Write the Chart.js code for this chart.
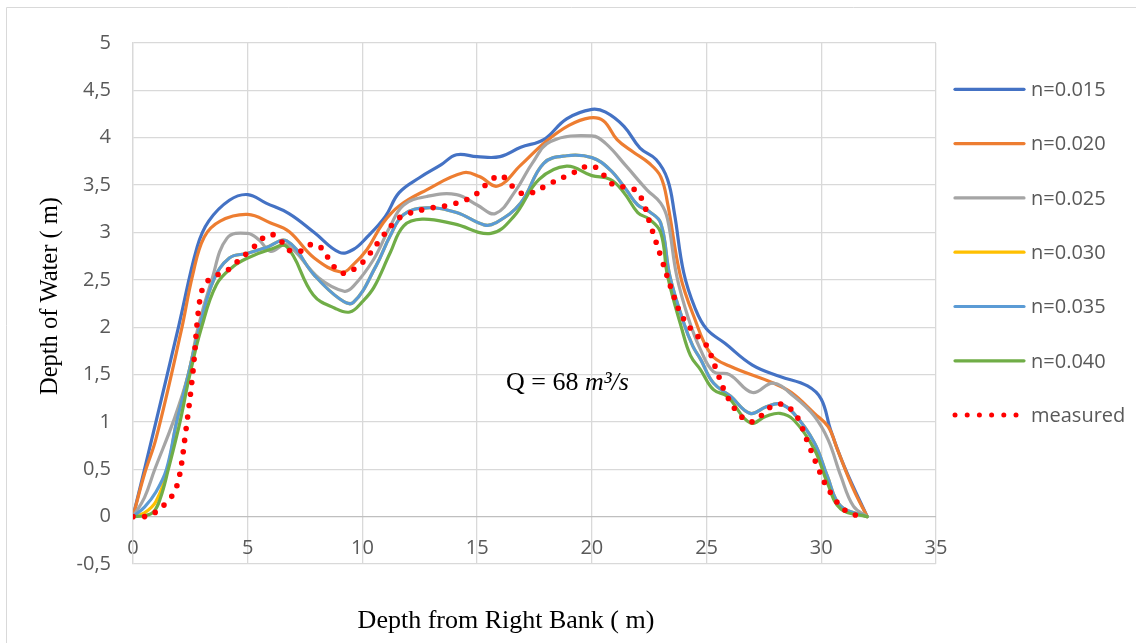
<!DOCTYPE html>
<html>
<head>
<meta charset="utf-8">
<title>Depth of Water</title>
<script src="https://cdn.jsdelivr.net/npm/chart.js@4.4.1/dist/chart.umd.min.js"></script>
<style>
  html, body { margin: 0; padding: 0; background: #ffffff; }
  #wrap { width: 1136px; height: 643px; position: relative; }
  canvas { display: block; }
</style>
</head>
<body>
<div id="wrap"><canvas id="chart" width="1136" height="643"></canvas></div>
<script>
// Axis ticks
const xTicks = [0, 5, 10, 15, 20, 25, 30, 35];
const yTicks = [-0.5, 0, 0.5, 1, 1.5, 2, 2.5, 3, 3.5, 4, 4.5, 5];
const yTickLabels = ['-0,5', '0', '0,5', '1', '1,5', '2', '2,5', '3', '3,5', '4', '4,5', '5'];

// Series names
const seriesNames = ['n=0.015', 'n=0.020', 'n=0.025', 'n=0.030', 'n=0.035', 'n=0.040', 'measured'];

// n = 0.015
const xN015 = [0, 1, 2, 2.8, 3.3, 4.2, 5, 5.8, 6.8, 7.9, 9, 9.6, 10.2, 11, 11.6, 12.5, 13.4, 14.1, 15, 16, 16.9, 17.9, 18.9, 20, 20.6, 21.4, 22.1, 22.8, 23.3, 23.6, 24, 24.5, 25, 25.8, 27, 28.2, 29.4, 30, 30.4, 31, 32];
const yN015 = [0, 1.0, 2.02, 2.85, 3.12, 3.34, 3.4, 3.31, 3.2, 3.0, 2.79, 2.82, 2.95, 3.17, 3.42, 3.58, 3.71, 3.82, 3.8, 3.8, 3.9, 3.98, 4.2, 4.3, 4.27, 4.12, 3.89, 3.77, 3.56, 3.2, 2.58, 2.2, 1.98, 1.83, 1.6, 1.48, 1.38, 1.24, 0.92, 0.53, 0];

// n = 0.020
const xN020 = [0, 0.5, 1, 2.1, 2.6, 3.1, 3.8, 5, 6, 6.8, 7.9, 9.1, 9.6, 10.2, 10.9, 11.6, 12.8, 14.4, 15.1, 15.9, 16.9, 18, 19, 19.9, 20.5, 21.1, 21.8, 22.5, 23, 23.3, 23.85, 24.45, 25.2, 26, 27.9, 28.7, 29.7, 30.3, 30.7, 31.4, 32];
const yN020 = [0, 0.45, 0.82, 1.96, 2.55, 2.95, 3.12, 3.19, 3.1, 3.01, 2.73, 2.58, 2.66, 2.82, 3.1, 3.28, 3.45, 3.63, 3.59, 3.49, 3.71, 3.96, 4.13, 4.21, 4.18, 3.98, 3.85, 3.73, 3.59, 3.31, 2.55, 2.11, 1.71, 1.59, 1.41, 1.31, 1.09, 0.95, 0.71, 0.29, 0];

// n = 0.025
const xN025 = [0, 0.5, 0.95, 1.75, 2.4, 2.84, 3.42, 4.1, 5, 5.5, 6, 6.7, 8.1, 9.2, 9.6, 10.5, 11.2, 11.8, 12.8, 14.1, 15, 15.8, 16.7, 17.4, 18.2, 20, 20.6, 21.5, 22.4, 23, 23.3, 23.7, 24.2, 24.74, 25.3, 26, 27, 27.9, 28.8, 29.7, 30.3, 30.85, 31.4, 32];
const yN025 = [0, 0.2, 0.5, 1.0, 1.49, 2.0, 2.49, 2.94, 2.99, 2.92, 2.8, 2.87, 2.52, 2.38, 2.43, 2.72, 3.06, 3.29, 3.38, 3.4, 3.29, 3.2, 3.45, 3.73, 3.96, 4.02, 3.94, 3.7, 3.45, 3.31, 3.14, 2.54, 2.1, 1.76, 1.53, 1.5, 1.31, 1.41, 1.27, 1.06, 0.81, 0.43, 0.11, 0];

// n = 0.030
const xN030 = [0, 0.5, 1, 1.5, 1.9, 2.4, 2.9, 3.5, 4.2, 5, 5.8, 6.7, 7.9, 9, 9.6, 10.6, 11.2, 11.8, 12.8, 14.1, 15.3, 15.8, 16.9, 17.9, 18.9, 20, 20.8, 21.5, 22, 22.5, 23, 23.4, 24, 24.4, 24.74, 25.3, 26.05, 26.9, 27.6, 28.2, 28.8, 29.7, 30.26, 30.85, 32];
const yN030 = [0, 0.04, 0.16, 0.5, 1.0, 1.49, 2.0, 2.49, 2.73, 2.78, 2.84, 2.91, 2.55, 2.3, 2.26, 2.65, 2.96, 3.19, 3.26, 3.21, 3.08, 3.1, 3.31, 3.73, 3.81, 3.79, 3.66, 3.45, 3.29, 3.22, 3.1, 2.54, 2.05, 1.8, 1.66, 1.41, 1.27, 1.09, 1.16, 1.19, 1.09, 0.78, 0.43, 0.11, 0];

// n = 0.035
const xN035 = [0, 0.5, 1, 1.46, 1.9, 2.4, 2.9, 3.5, 4.2, 5, 5.8, 6.7, 7.9, 9, 9.6, 10.6, 11.2, 11.8, 12.8, 14.1, 15.3, 15.8, 16.9, 17.9, 18.9, 20, 20.8, 21.5, 22, 22.5, 23, 23.4, 24, 24.4, 24.74, 25.3, 26.05, 26.9, 27.6, 28.2, 28.8, 29.7, 30.26, 30.85, 32];
const yN035 = [0, 0.1, 0.26, 0.5, 1.0, 1.49, 2.0, 2.49, 2.73, 2.78, 2.84, 2.91, 2.55, 2.3, 2.26, 2.65, 2.96, 3.19, 3.26, 3.21, 3.08, 3.1, 3.31, 3.73, 3.81, 3.79, 3.66, 3.45, 3.29, 3.22, 3.1, 2.54, 2.05, 1.8, 1.66, 1.41, 1.27, 1.09, 1.16, 1.19, 1.09, 0.78, 0.43, 0.11, 0];

// n = 0.040
const xN040 = [0, 0.5, 0.9, 1.2, 1.53, 2.04, 2.47, 2.98, 3.64, 4.37, 5, 5.97, 6.7, 7.86, 8.8, 9.45, 10, 10.5, 11.2, 11.8, 12.6, 14, 15.6, 16.6, 17.7, 18.9, 20, 20.8, 21.4, 22, 22.5, 23, 23.3, 23.9, 24.3, 24.74, 25.3, 25.9, 26.9, 27.6, 28.2, 28.8, 29.7, 30.26, 30.85, 32];
const yN040 = [0, 0.01, 0.05, 0.2, 0.49, 0.99, 1.49, 1.99, 2.45, 2.64, 2.73, 2.82, 2.85, 2.34, 2.2, 2.16, 2.27, 2.42, 2.78, 3.07, 3.14, 3.09, 2.99, 3.17, 3.56, 3.7, 3.6, 3.56, 3.42, 3.21, 3.14, 3.0, 2.54, 2.0, 1.7, 1.55, 1.34, 1.27, 0.99, 1.06, 1.09, 1.02, 0.71, 0.36, 0.08, 0];

// measured profile
const xMeasured = [0, 0.5, 1.0, 1.5, 1.75, 2.0, 2.3, 2.6, 2.92, 3.16, 3.57, 4.05, 4.44, 5.24, 5.6, 6.04, 6.45, 6.81, 7.28, 7.71, 8.15, 8.76, 9.17, 9.68, 10.07, 10.7, 11.4, 11.8, 12.8, 13.8, 14.8, 15.6, 16.05, 16.8, 17.27, 18.2, 19.2, 19.65, 20.15, 20.9, 21.4, 21.87, 22.2, 22.5, 23.0, 23.5, 23.9, 24.5, 24.9, 25.15, 25.5, 25.9, 26.5, 26.95, 27.4, 27.8, 28.2, 28.7, 29.0, 29.4, 29.8, 30.2, 30.5, 30.8, 31.2, 31.6, 31.8];
const yMeasured = [0, 0, 0.05, 0.16, 0.24, 0.4, 0.9, 1.5, 2.3, 2.46, 2.54, 2.59, 2.67, 2.84, 2.93, 2.98, 2.91, 2.81, 2.8, 2.87, 2.85, 2.64, 2.57, 2.62, 2.7, 2.9, 3.11, 3.18, 3.25, 3.29, 3.38, 3.55, 3.6, 3.43, 3.41, 3.52, 3.63, 3.69, 3.69, 3.51, 3.48, 3.45, 3.34, 3.12, 2.75, 2.38, 2.13, 1.93, 1.84, 1.73, 1.5, 1.27, 1.06, 1.0, 1.07, 1.16, 1.19, 1.13, 1.03, 0.79, 0.55, 0.33, 0.22, 0.12, 0.04, 0.01, 0];

const seriesX = [xN015, xN020, xN025, xN030, xN035, xN040, xMeasured];
const seriesY = [yN015, yN020, yN025, yN030, yN035, yN040, yMeasured];
const seriesColors = ['#4472C4', '#ED7D31', '#A5A5A5', '#FFC000', '#5B9BD5', '#70AD47', '#FF0000'];

const SANS = "'Open Sans', 'Liberation Sans', sans-serif";
const SERIF = "'Liberation Serif', 'Times New Roman', serif";
const TICK_COLOR = '#595959';
const GRID_COLOR = '#d9d9d9';

const datasets = seriesNames.map((name, i) => {
  const isMeasured = name === 'measured';
  return {
    label: name,
    data: seriesX[i].map((x, k) => ({ x: x, y: seriesY[i][k] })),
    borderColor: seriesColors[i],
    backgroundColor: seriesColors[i],
    borderWidth: isMeasured ? 5.6 : 3.2,
    borderDash: isMeasured ? [0, 11.6] : [],
    borderCapStyle: 'round',
    borderJoinStyle: 'round',
    tension: 0.4,
    pointRadius: 0,
    fill: false,
    // later series are painted over earlier ones
    order: seriesNames.length - i
  };
});

// Frame, axis titles, flow annotation and legend
const decorations = {
  id: 'decorations',
  afterDraw(chart) {
    const ctx = chart.ctx;
    ctx.save();

    // outer frame (left and top edges)
    ctx.strokeStyle = GRID_COLOR;
    ctx.lineWidth = 1;
    ctx.beginPath();
    ctx.moveTo(6.5, 643);
    ctx.lineTo(6.5, 7.5);
    ctx.lineTo(1136, 7.5);
    ctx.stroke();

    // axis titles
    ctx.fillStyle = '#000000';
    ctx.font = '26px ' + SERIF;
    ctx.textAlign = 'center';
    ctx.textBaseline = 'alphabetic';
    ctx.fillText('Depth from Right Bank ( m)', 506, 628);

    ctx.save();
    ctx.translate(51, 296);
    ctx.rotate(-Math.PI / 2);
    ctx.font = '24.5px ' + SERIF;
    ctx.textBaseline = 'middle';
    ctx.fillText('Depth of Water ( m)', 0, 0);
    ctx.restore();

    // discharge annotation
    ctx.textAlign = 'left';
    ctx.textBaseline = 'alphabetic';
    ctx.font = '26px ' + SERIF;
    const part1 = 'Q = 68 ';
    const qx = 506, qy = 390;
    ctx.fillText(part1, qx, qy);
    const w1 = ctx.measureText(part1).width;
    ctx.font = 'italic 26px ' + SERIF;
    ctx.fillText('m\u00B3/s', qx + w1, qy);

    // legend
    const lx0 = 955, lx1 = 1024, tx = 1031;
    const rowY0 = 89.3, rowStep = 54.3;
    ctx.font = '20px ' + SANS;
    ctx.textBaseline = 'middle';
    seriesNames.forEach((name, i) => {
      const y = rowY0 + i * rowStep;
      if (name === 'measured') {
        ctx.fillStyle = seriesColors[i];
        for (let k = 0; k < 6; k++) {
          ctx.beginPath();
          ctx.arc(lx0 + k * 12.2, y, 2.5, 0, Math.PI * 2);
          ctx.fill();
        }
      } else {
        ctx.strokeStyle = seriesColors[i];
        ctx.lineWidth = 3.2;
        ctx.lineCap = 'round';
        ctx.beginPath();
        ctx.moveTo(lx0, y);
        ctx.lineTo(lx1, y);
        ctx.stroke();
      }
      ctx.fillStyle = TICK_COLOR;
      ctx.fillText(name, tx, y + 1);
    });

    ctx.restore();
  }
};

new Chart(document.getElementById('chart'), {
  type: 'line',
  data: { datasets: datasets },
  options: {
    responsive: false,
    animation: false,
    layout: { padding: { left: 0, right: 200, top: 43, bottom: 79 } },
    scales: {
      x: {
        type: 'linear',
        // the horizontal axis crosses at a depth of 0
        position: { y: 0 },
        min: 0,
        max: 35,
        afterBuildTicks: (scale) => { scale.ticks = xTicks.map(v => ({ value: v })); },
        afterFit: (scale) => { scale.height = 0; },
        grid: { color: GRID_COLOR, lineWidth: 1.3, drawTicks: false },
        border: { display: false },
        ticks: {
          padding: 20,
          color: TICK_COLOR,
          font: { family: SANS, size: 20 },
          maxRotation: 0,
          autoSkip: false
        }
      },
      y: {
        type: 'linear',
        position: 'left',
        min: -0.5,
        max: 5,
        afterBuildTicks: (scale) => { scale.ticks = yTicks.map(v => ({ value: v })); },
        afterFit: (scale) => { scale.width = 133; },
        grid: {
          color: (c) => (c.tick && c.tick.value === 0 ? '#bfbfbf' : GRID_COLOR),
          lineWidth: 1.3,
          drawTicks: false
        },
        border: { display: true, color: GRID_COLOR, width: 1.3 },
        ticks: {
          padding: 22,
          color: TICK_COLOR,
          font: { family: SANS, size: 20 },
          autoSkip: false,
          callback: (value, index) => yTickLabels[index]
        }
      }
    },
    plugins: {
      legend: { display: false },
      tooltip: { enabled: false }
    }
  },
  plugins: [decorations]
});
</script>
</body>
</html>
